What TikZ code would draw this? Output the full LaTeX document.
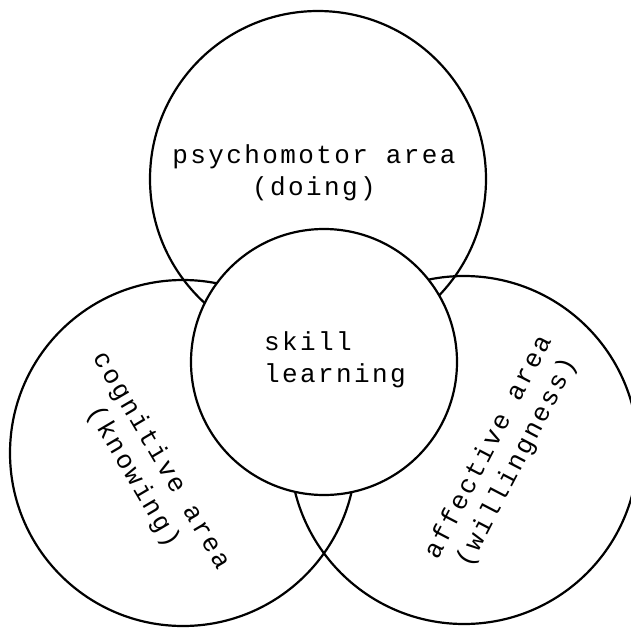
\documentclass[tikz,border=0pt]{standalone}
\usepackage{fontspec}
\newfontfamily\plotfont[LetterSpace=9.2]{Liberation Mono}
\usetikzlibrary{positioning}
\tikzset{
    area/.style={draw, circle, line width=1.1pt, inner sep=0pt},
    core/.style={area, fill=white},
    label/.style={font=\plotfont\fontsize{13}{16}\selectfont, align=center, inner sep=0pt}
}

\begin{document}
\begin{tikzpicture}[x=0.5pt, y=-0.5pt]
    \useasboundingbox (0,0) rectangle (631,633);
    \node (psycho) [area, minimum size=168pt] at (318,179) {};
    \node (cogn) [area, minimum size=173pt] at (183,453) {};
    \node (affect) [area, minimum size=174pt] at (464,450) {};
    \node (skill) [core, minimum size=133pt] at (324,362) {};

    \node (psycholabel) [label] at (314,173) {psychomotor area\\(doing)};
    \node (skilllabel) [label, align=left] at (335,360) {skill\\learning};
    \node (cognlabel) [label, rotate=-59.5] at (147,469) {cognitive area\\(knowing)};
    \node (affectlabel) [label, rotate=62.5] at (503,455) {affective area\\(willingness)};
\end{tikzpicture}
\end{document}
